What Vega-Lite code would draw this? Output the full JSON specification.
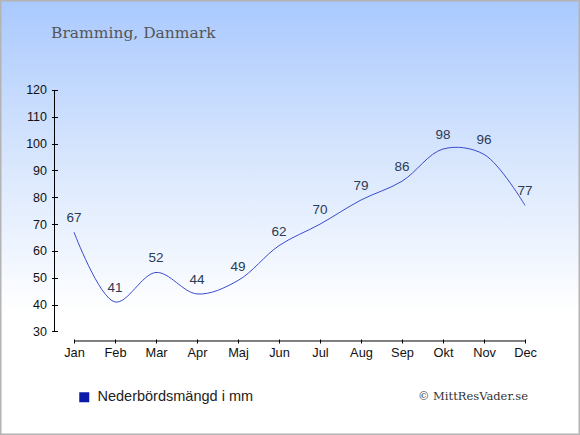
{
  "$schema": "https://vega.github.io/schema/vega-lite/v6.json",
  "width": 580,
  "height": 435,
  "autosize": {"type": "none"},
  "padding": 0,
  "title": {
    "text": "Bramming, Danmark",
    "anchor": "start", "frame": "group", "orient": "top",
    "font": "DejaVu Serif", "fontSize": 15.5, "fontWeight": "normal", "color": "#555555",
    "baseline": "alphabetic", "offset": 0, "dx": 51, "dy": 53
  },
  "config": {
    "view": {
      "fill": {"gradient": "linear", "x1": 0, "y1": 0, "x2": 0, "y2": 1,
        "stops": [{"offset": 0, "color": "#a9c9fe"}, {"offset": 0.35, "color": "#d6e5fd"}, {"offset": 0.72, "color": "#ffffff"}, {"offset": 1, "color": "#ffffff"}]},
      "stroke": "#b4b4b4", "strokeWidth": 3
    },
    "axis": {"labelFont": "Liberation Sans", "labelColor": "#111111", "tickColor": "#000000", "grid": false, "domain": false, "title": null}
  },
  "data": {"values": [
    {"m": 0, "mon": "Jan", "v": 67},
    {"m": 1, "mon": "Feb", "v": 41},
    {"m": 2, "mon": "Mar", "v": 52},
    {"m": 3, "mon": "Apr", "v": 44},
    {"m": 4, "mon": "Maj", "v": 49},
    {"m": 5, "mon": "Jun", "v": 62},
    {"m": 6, "mon": "Jul", "v": 70},
    {"m": 7, "mon": "Aug", "v": 79},
    {"m": 8, "mon": "Sep", "v": 86},
    {"m": 9, "mon": "Okt", "v": 98},
    {"m": 10, "mon": "Nov", "v": 96},
    {"m": 11, "mon": "Dec", "v": 77}
  ]},
  "layer": [
    {
      "mark": {"type": "line", "interpolate": "catmull-rom", "strokeWidth": 1},
      "encoding": {
        "x": {"field": "m", "type": "quantitative",
          "scale": {"domain": [-1.805, 12.341], "nice": false, "zero": false},
          "axis": {"orient": "bottom", "offset": -96, "values": [0,1,2,3,4,5,6,7,8,9,10,11],
            "labelExpr": "['Jan','Feb','Mar','Apr','Maj','Jun','Jul','Aug','Sep','Okt','Nov','Dec'][datum.value]",
            "tickSize": 4, "labelPadding": 3, "labelFontSize": 12.8}},
        "y": {"field": "v", "type": "quantitative",
          "scale": {"domain": [-8.575, 153.54], "nice": false, "zero": false},
          "axis": {"orient": "left", "offset": -57.5, "values": [30,40,50,60,70,80,90,100,110,120],
            "tickSize": 6, "labelPadding": 5, "labelFontSize": 12.5}},
        "color": {"datum": "Nederbördsmängd i mm", "type": "nominal",
          "scale": {"range": ["#3a4ccc"]},
          "legend": {"title": null, "orient": "none", "legendX": 77, "legendY": 390, "padding": 0,
            "labelFont": "Liberation Sans", "labelFontSize": 14.5, "labelColor": "#222222", "labelOffset": 6,
            "symbolType": "square", "symbolSize": 100,
            "encode": {"symbols": {"update": {"fill": {"value": "#0a1aa8"}, "stroke": {"value": "#0a1aa8"}, "strokeWidth": {"value": 0}, "shape": {"value": "square"}}}}}}
      }
    },
    {
      "data": {"values": [{}]},
      "mark": {"type": "rule", "color": "#000000", "strokeWidth": 1},
      "encoding": {
        "x": {"datum": -0.4756, "type": "quantitative"},
        "y": {"datum": 30, "type": "quantitative"},
        "y2": {"datum": 120}
      }
    },
    {
      "data": {"values": [{}]},
      "mark": {"type": "rule", "color": "#000000", "strokeWidth": 1},
      "encoding": {
        "x": {"datum": 0, "type": "quantitative"},
        "x2": {"datum": 11},
        "y": {"datum": 26.46, "type": "quantitative"}
      }
    },
    {
      "mark": {"type": "text", "baseline": "middle", "align": "center", "dy": -14, "font": "Liberation Sans", "fontSize": 13.5, "color": "#2b3a55"},
      "encoding": {
        "x": {"field": "m", "type": "quantitative"},
        "y": {"field": "v", "type": "quantitative"},
        "text": {"field": "v", "type": "quantitative"}
      }
    },
    {
      "data": {"values": [{"t": "© MittResVader.se"}]},
      "mark": {"type": "text", "align": "right", "baseline": "middle", "font": "DejaVu Serif", "fontSize": 11.5, "color": "#333333"},
      "encoding": {
        "x": {"datum": 11.073, "type": "quantitative"},
        "y": {"datum": 5.59, "type": "quantitative"},
        "text": {"field": "t", "type": "nominal"}
      }
    }
  ]
}
